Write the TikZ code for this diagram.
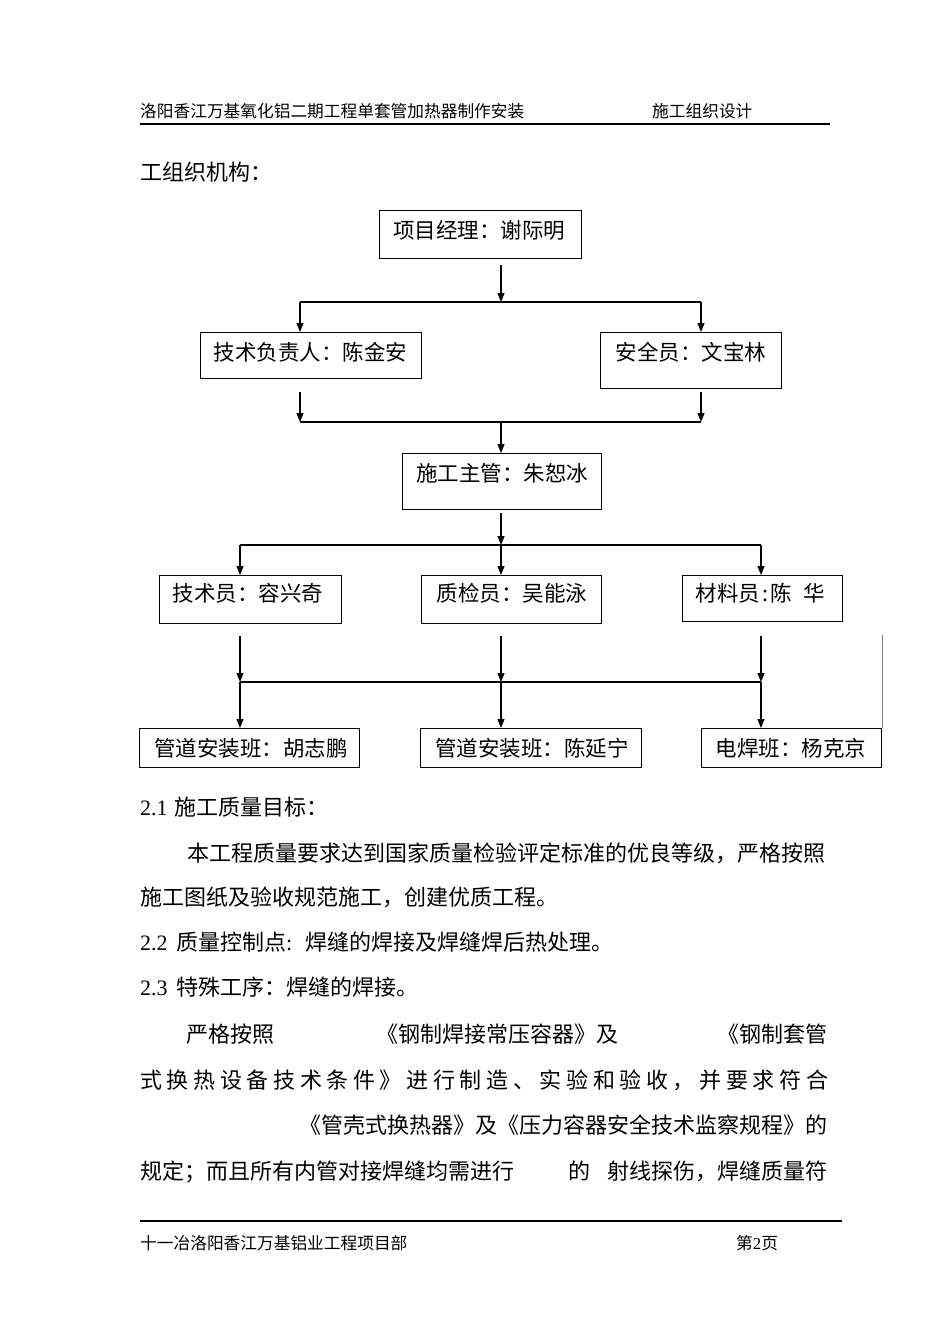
\documentclass[tikz,border=0pt]{standalone}
\usepackage{fontspec}
\setmainfont{Liberation Serif}
\newfontfamily\cjk{Noto Sans CJK SC}
\newcommand\lat[1]{{\rmfamily #1}}
\usetikzlibrary{arrows.meta}
\begin{document}
\begin{tikzpicture}[x=1pt,y=-1pt,
  bx/.style={draw, line width=1.3pt, inner sep=0pt, anchor=north west},
  lbl/.style={inner sep=0pt, font=\cjk\fontsize{21.5}{24}\selectfont, text height=19pt, text depth=2.5pt},
  txt/.style={inner sep=0pt, anchor=west, font=\cjk\fontsize{22}{26}\selectfont, text height=19.4pt, text depth=2.6pt},
  txte/.style={txt, anchor=east},
  hdr/.style={inner sep=0pt, anchor=west, font=\cjk\fontsize{16.7}{20}\selectfont, text height=14.7pt, text depth=2pt},
  ln/.style={line width=1.2pt},
  arr/.style={line width=1.2pt, -{Triangle[length=9pt,width=7pt]}},
  rule/.style={line width=1.8pt}
]
\fill[white] (0,0) rectangle (950,1344);
\useasboundingbox (0,0) rectangle (950,1344);

% header / footer
\node[hdr] (h1) at (140,111) {洛阳香江万基氧化铝二期工程单套管加热器制作安装};
\node[hdr] (h2) at (652,111) {施工组织设计};
\draw[rule] (140,124) -- (830,124);
\draw[rule] (140,1221) -- (842,1221);
\node[hdr] (f1) at (140,1243) {十一冶洛阳香江万基铝业工程项目部};
\node[hdr] (f2) at (736,1243) {第\lat{2}页};

\node[txt] (t0) at (140,172) {工组织机构：};

% boxes
\node[bx, minimum width=202pt, minimum height=48pt] (pm) at (379,210) {};
\node[bx, minimum width=221pt, minimum height=46pt] (tl) at (200,332) {};
\node[bx, minimum width=181pt, minimum height=56pt] (sa) at (600,332) {};
\node[bx, minimum width=199pt, minimum height=56pt] (sg) at (402,453) {};
\node[bx, minimum width=182pt, minimum height=48pt] (js) at (159,575) {};
\node[bx, minimum width=180pt, minimum height=48pt] (zj) at (421,575) {};
\node[bx, minimum width=160pt, minimum height=46pt] (cl) at (682,575) {};
\node[bx, minimum width=220pt, minimum height=39pt] (g1) at (139,728) {};
\node[bx, minimum width=221pt, minimum height=39pt] (g2) at (420,728) {};
\node[bx, minimum width=180pt, minimum height=39pt] (dh) at (701,728) {};

% labels
\node[lbl] (lpm) at (479,230) {项目经理：谢际明};
\node[lbl] (ltl) at (310.5,352) {技术负责人：陈金安};
\node[lbl] (lsa) at (691,352) {安全员：文宝林};
\node[lbl] (lsg) at (502,473) {施工主管：朱恕冰};
\node[lbl] (ljs) at (248,593) {技术员：容兴奇};
\node[lbl] (lzj) at (512,593) {质检员：吴能泳};
\node[lbl] (lcl) at (760.5,593) {材料员\makebox[10pt]{:}陈\hspace{12pt}华};
\node[lbl] (lg1) at (251,748) {管道安装班：胡志鹏};
\node[lbl] (lg2) at (532,748) {管道安装班：陈延宁};
\node[lbl] (ldh) at (791,748) {电焊班：杨克京};

% connector points
\coordinate (a0) at (501,265);
\coordinate (j0) at (501,302);
\coordinate (j0l) at (300,302);
\coordinate (j0r) at (701,302);
\coordinate (a1l) at (300,392);
\coordinate (a1r) at (701,392);
\coordinate (j1l) at (300,422);
\coordinate (j1r) at (701,422);
\coordinate (j1) at (501,422);
\coordinate (a2) at (501,513);
\coordinate (j2) at (501,545);
\coordinate (j2l) at (240,545);
\coordinate (j2r) at (761,545);
\coordinate (a3l) at (240,636);
\coordinate (a3m) at (501,636);
\coordinate (a3r) at (761,636);
\coordinate (j3l) at (240,682);
\coordinate (j3m) at (501,682);
\coordinate (j3r) at (761,682);
\coordinate (gt) at (882,635);

\draw[arr] (a0) -- (j0);
\draw[ln] (j0l) -- (j0r);
\draw[arr] (j0l) -- (j0l |- tl.north);
\draw[arr] (j0r) -- (j0r |- sa.north);

\draw[arr] (a1l) -- (j1l);
\draw[arr] (a1r) -- (j1r);
\draw[ln] (j1l) -- (j1r);
\draw[arr] (j1) -- (j1 |- sg.north);

\draw[arr] (a2) -- (j2);
\draw[ln] (j2l) -- (j2r);
\draw[arr] (j2l) -- (j2l |- js.north);
\draw[arr] (j2) -- (j2 |- zj.north);
\draw[arr] (j2r) -- (j2r |- cl.north);

\draw[arr] (a3l) -- (j3l);
\draw[arr] (a3m) -- (j3m);
\draw[arr] (a3r) -- (j3r);
\draw[ln] (j3l) -- (j3r);
\draw[arr] (j3l) -- (j3l |- g1.north);
\draw[arr] (j3m) -- (j3m |- g2.north);
\draw[arr] (j3r) -- (j3r |- dh.north);

\draw[line width=1pt, gray] (gt) -- (gt |- dh.north);

% body text
\node[txt] (s1a) at (140,807) {\lat{2.1}};
\node[txt] (s1b) at (174,807) {施工质量目标：};
\node[txt] (p1) at (187,853) {本工程质量要求达到国家质量检验评定标准的优良等级，严格按照};
\node[txt] (p2) at (140,897) {施工图纸及验收规范施工，创建优质工程。};
\node[txt] (s2a) at (140,942) {\lat{2.2}};
\node[txt] (s2b) at (176,942) {质量控制点\lat{:}};
\node[txt] (s2c) at (305,942) {焊缝的焊接及焊缝焊后热处理。};
\node[txt] (s3a) at (140,987) {\lat{2.3}};
\node[txt] (s3b) at (176,987) {特殊工序：焊缝的焊接。};
\node[txt] (q1a) at (186,1034) {严格按照};
\node[txt] (q1b) at (376,1034) {《钢制焊接常压容器》及};
\node[txte] (q1c) at (828,1034) {《钢制套管};
\node[txt] (q2) at (140,1080) {\makebox[688pt][l]{式\hfill 换\hfill 热\hfill 设\hfill 备\hfill 技\hfill 术\hfill 条\hfill 件\hfill 》\hfill 进\hfill 行\hfill 制\hfill 造\hfill 、\hfill 实\hfill 验\hfill 和\hfill 验\hfill 收\hfill ，\hfill 并\hfill 要\hfill 求\hfill 符\hfill 合}};
\node[txte] (q3) at (828,1125) {《管壳式换热器》及《压力容器安全技术监察规程》的};
\node[txt] (q4a) at (140,1171) {规定；而且所有内管对接焊缝均需进行};
\node[txt] (q4b) at (568,1171) {的};
\node[txte] (q4c) at (828,1171) {射线探伤，焊缝质量符};
\end{tikzpicture}
\end{document}
